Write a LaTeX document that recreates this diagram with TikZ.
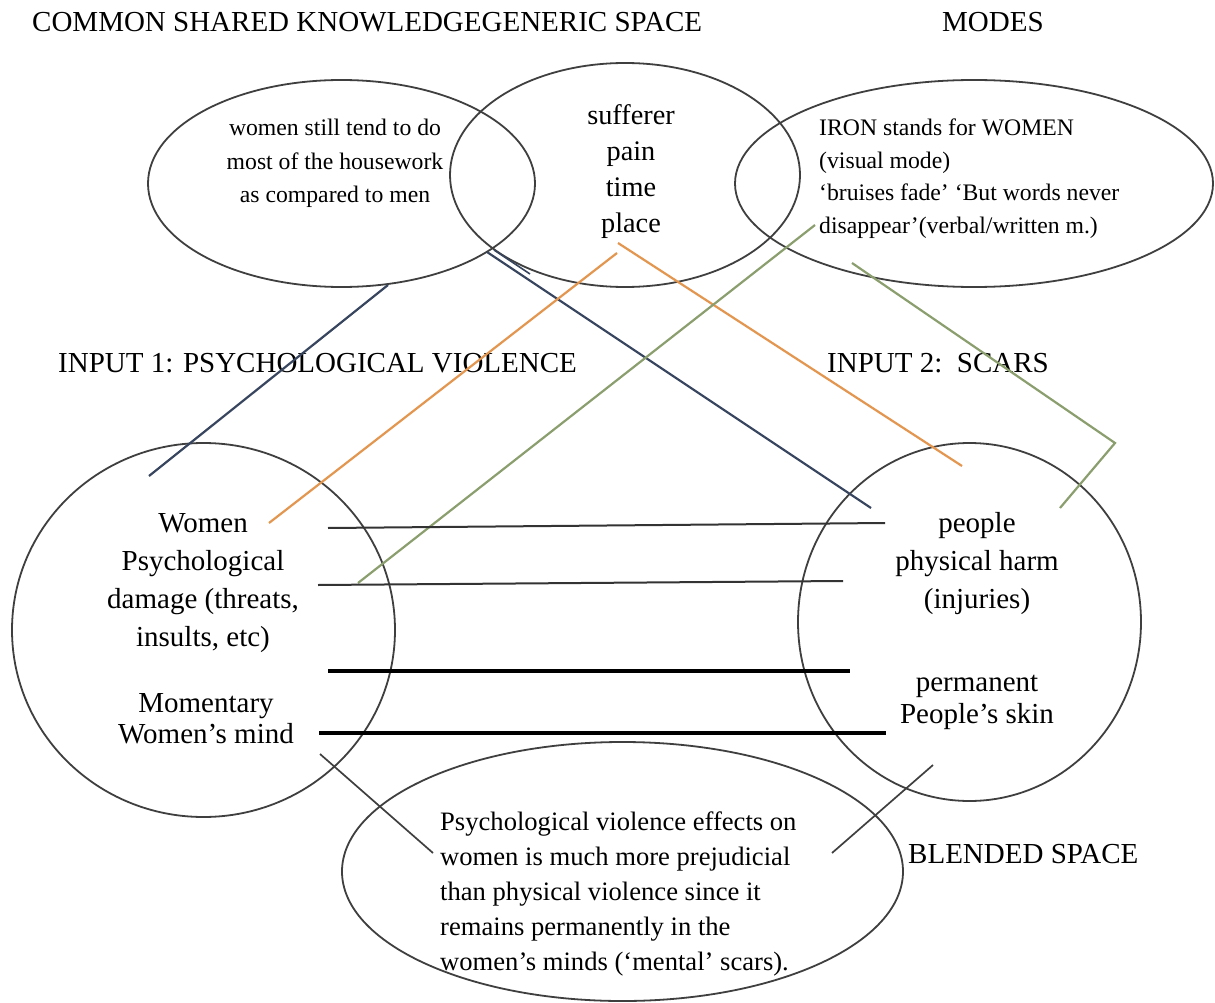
\documentclass[tikz,border=0pt]{standalone}
\usepackage{fontspec}
\setmainfont{Liberation Serif}
\usetikzlibrary{shapes.geometric}

\definecolor{rim}{HTML}{3F3F3F}
\definecolor{navyline}{HTML}{38455E}
\definecolor{orangeline}{HTML}{E3964F}
\definecolor{greenline}{HTML}{8B9E6E}

% a block of lines: size, baseline skip, column alignment, lines
\newcommand\txtblock[4]{{\fontsize{#1}{#2}\selectfont\begin{tabular}[t]{@{}#3@{}}#4\end{tabular}}}

\begin{document}
\begin{tikzpicture}[x=1pt,y=-1pt,
  ring/.style={draw=rim, line width=1.8pt, ellipse, inner sep=0pt},
  heading/.style={inner sep=0pt, anchor=base west, font=\fontsize{29}{35}\selectfont},
  body/.style={inner sep=0pt, anchor=base},
  navy/.style={draw=navyline, line width=2.2pt},
  orange/.style={draw=orangeline, line width=2.2pt},
  green/.style={draw=greenline, line width=2.2pt},
  thin/.style={draw=black!80, line width=2pt},
  thick/.style={draw=black, line width=3.2pt}]

\useasboundingbox (0,0) rectangle (1215,1003);
\fill[white] (0,0) rectangle (1215,1003);

% spaces
\node[ring, minimum width=387pt, minimum height=207pt] (common) at (341.5,183.5) {};
\node[ring, minimum width=350pt, minimum height=224pt] (generic) at (625,175) {};
\node[ring, minimum width=478pt, minimum height=207pt] (modes) at (974,183.5) {};
\node[ring, minimum width=383pt, minimum height=374pt] (input1) at (203.5,630) {};
\node[ring, minimum width=343pt, minimum height=358pt] (input2) at (969.5,622) {};
\node[ring, minimum width=561pt, minimum height=259pt] (blend) at (622.5,871.5) {};

% headings
\node[heading] (t-common) at (32,32) {COMMON SHARED KNOWLEDGEGENERIC SPACE};
\node[heading] (t-modes) at (942,32) {MODES};
\node[heading] (t-in1) at (58,372) {INPUT 1: PSYCHOLOGICAL VIOLENCE};
\node[heading] (t-in2) at (827,372) {INPUT 2:\ \ SCARS};
\node[heading] (t-blend) at (908,863) {BLENDED SPACE};

% contents
\node[body] (x-common) at (335,136)
  {\txtblock{23.7}{33.5}{c}{women still tend to do\\most of the housework\\as compared to men}};
\node[body] (x-generic) at (631,125)
  {\txtblock{28.3}{36}{c}{sufferer\\pain\\time\\place}};
\node[body, anchor=base west] (x-modes) at (819,136)
  {\txtblock{23.7}{32.5}{l}{IRON stands for WOMEN\\(visual mode)\\‘bruises fade’ ‘But words never\\disappear’(verbal/written m.)}};
\node[body] (x-in1a) at (203,532)
  {\txtblock{29}{38.3}{c}{Women\\Psychological\\damage (threats,\\insults, etc)}};
\node[body] (x-in1b) at (206,712)
  {\txtblock{29}{31}{c}{Momentary\\Women’s mind}};
\node[body] (x-in2a) at (977,532)
  {\txtblock{29}{38.3}{c}{people\\physical harm\\(injuries)}};
\node[body] (x-in2b) at (977,691)
  {\txtblock{29}{32}{c}{permanent\\People’s skin}};
\node[body, anchor=base west] (x-blend) at (440,830)
  {\txtblock{26.6}{35}{l}{Psychological violence effects on\\women is much more prejudicial\\than physical violence since it\\remains permanently in the\\women’s minds (‘mental’ scars).}};

% end points of the mapping lines
\coordinate (n1a) at (388,285);  \coordinate (n1b) at (149,476);
\coordinate (n2a) at (487,252);  \coordinate (n2b) at (871,508);
\coordinate (n2c) at (494,250);  \coordinate (n2d) at (530,274);
\coordinate (o1a) at (617,253);  \coordinate (o1b) at (269,523);
\coordinate (o2a) at (618,243);  \coordinate (o2b) at (962,466);
\coordinate (g1a) at (815,225);  \coordinate (g1b) at (358,583);
\coordinate (g2a) at (852,263);  \coordinate (g2k) at (1115,443); \coordinate (g2b) at (1060,508);
\coordinate (h1a) at (328,528);  \coordinate (h1b) at (885,523);
\coordinate (h2a) at (318,585);  \coordinate (h2b) at (843,581);
\coordinate (h3a) at (328,671);  \coordinate (h3b) at (850,671);
\coordinate (h4a) at (319,733);  \coordinate (h4b) at (886,733);
\coordinate (b1a) at (320,754);  \coordinate (b1b) at (433,853);
\coordinate (b2a) at (933,765);  \coordinate (b2b) at (832,853);

% generic space to the inputs
\draw[navy] (n1a) -- (n1b);
\draw[navy] (n2a) -- (n2b);
\draw[navy, line width=1.6pt] (n2c) -- (n2d);
\draw[orange] (o1a) -- (o1b);
\draw[orange] (o2a) -- (o2b);
\draw[green] (g1a) -- (g1b);
\draw[green] (g2a) -- (g2k) -- (g2b);

% cross-space mappings
\draw[thin] (h1a) -- (h1b);
\draw[thin] (h2a) -- (h2b);
\draw[thick] (h3a) -- (h3b);
\draw[thick] (h4a) -- (h4b);

% projection into the blend
\draw[draw=rim, line width=1.7pt] (b1a) -- (b1b);
\draw[draw=rim, line width=1.7pt] (b2a) -- (b2b);
\end{tikzpicture}
\end{document}
